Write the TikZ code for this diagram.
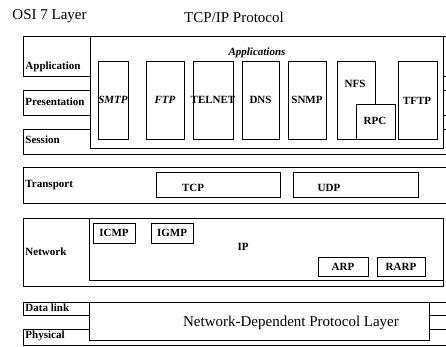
\documentclass[tikz,border=0pt]{standalone}
\usepackage{fontspec}
\setmainfont{Liberation Serif}
\usetikzlibrary{fit}
\begin{document}
\begin{tikzpicture}[x=1pt,y=-1pt,
  line width=0.9pt,
  box/.style={draw, inner sep=0pt},
  wbox/.style={draw, fill=white, inner sep=0pt},
  lbl/.style={font=\bfseries\fontsize{11}{12}\selectfont, inner sep=0pt},
  ilbl/.style={font=\bfseries\itshape\fontsize{11}{12}\selectfont, inner sep=0pt},
  ttl/.style={font=\fontsize{15}{17}\selectfont, inner sep=0pt}
]
\useasboundingbox (0,0) rectangle (446,347);
\clip (0,0) rectangle (446,347);
% titles
\node[ttl, anchor=west] (tosi) at (12,16) {OSI 7 Layer};
\node[ttl] (ttcp) at (234,17) {TCP/IP Protocol};
% OSI layer boxes
\node[box, fit={(23,36) (452,76)}] (app) {};
\node[box, fit={(23,90) (452,115)}] (pres) {};
\node[box, fit={(23,129) (452,154)}] (sess) {};
\node[box, fit={(23,167) (452,203)}] (trans) {};
\node[box, fit={(23,218) (443,286)}] (net) {};
\node[box, fit={(23,302) (452,315)}] (dlink) {};
\node[box, fit={(23,329) (452,345)}] (phys) {};
\node[lbl, anchor=west] (lapp) at (25,67) {Application};
\node[lbl, anchor=west] (lpres) at (25,102) {Presentation};
\node[lbl, anchor=west] (lsess) at (25,140) {Session};
\node[lbl, anchor=west] (ltrans) at (25,185) {Transport};
\node[lbl, anchor=west] (lnet) at (25,252) {Network};
\node[lbl, anchor=west] (ldl) at (25,308) {Data link};
\node[lbl, anchor=west] (lph) at (25,336) {Physical};
% Applications
\node[wbox, fit={(90,36) (443,148)}] (apps) {};
\node[ilbl] (lapps) at (257,53) {Applications};
\node[box, fit={(98,61) (128,139)}] (smtp) {};
\node[ilbl] at (smtp) {SMTP};
\node[box, fit={(146,61) (184,139)}] (ftp) {};
\node[ilbl] at (ftp) {FTP};
\node[box, fit={(193,61) (233,139)}] (telnet) {};
\node[lbl] at (213,100) {TELNET};
\node[box, fit={(242,61) (279,139)}] (dns) {};
\node[lbl] at (dns) {DNS};
\node[box, fit={(288,61) (326,139)}] (snmp) {};
\node[lbl] at (snmp) {SNMP};
\coordinate (nfsa) at (356,139);
\coordinate (nfsb) at (375,104);
\draw (nfsa) -- (337,139) -- (337,61) -- (375,61) -- (nfsb);
\node[lbl] (lnfs) at (355,84) {NFS};
\node[box, fit={(356,104) (395,139)}] (rpc) {};
\node[lbl] at (375,121) {RPC};
\node[box, fit={(398,61) (437,139)}] (tftp) {};
\node[lbl] at (417,101) {TFTP};
% Transport
\node[box, fit={(156,172) (280,197)}] (tcp) {};
\node[lbl] at (193,188) {TCP};
\node[box, fit={(293,172) (418,197)}] (udp) {};
\node[lbl] at (329,188) {UDP};
% Network
\node[box, fit={(89,218) (443,280)}] (ip) {};
\node[lbl] at (243,247) {IP};
\node[box, fit={(93,223) (135,243)}] (icmp) {};
\node[lbl] at (icmp) {ICMP};
\node[box, fit={(151,223) (193,243)}] (igmp) {};
\node[lbl] at (igmp) {IGMP};
\node[box, fit={(318,257) (368,276)}] (arp) {};
\node[lbl] at (arp) {ARP};
\node[box, fit={(377,257) (425,276)}] (rarp) {};
\node[lbl] at (rarp) {RARP};
% Network-dependent
\node[wbox, fit={(89,302) (429,340)}] (ndpl) {};
\node[ttl] at (291,323) {Network-Dependent Protocol Layer};
\end{tikzpicture}
\end{document}
